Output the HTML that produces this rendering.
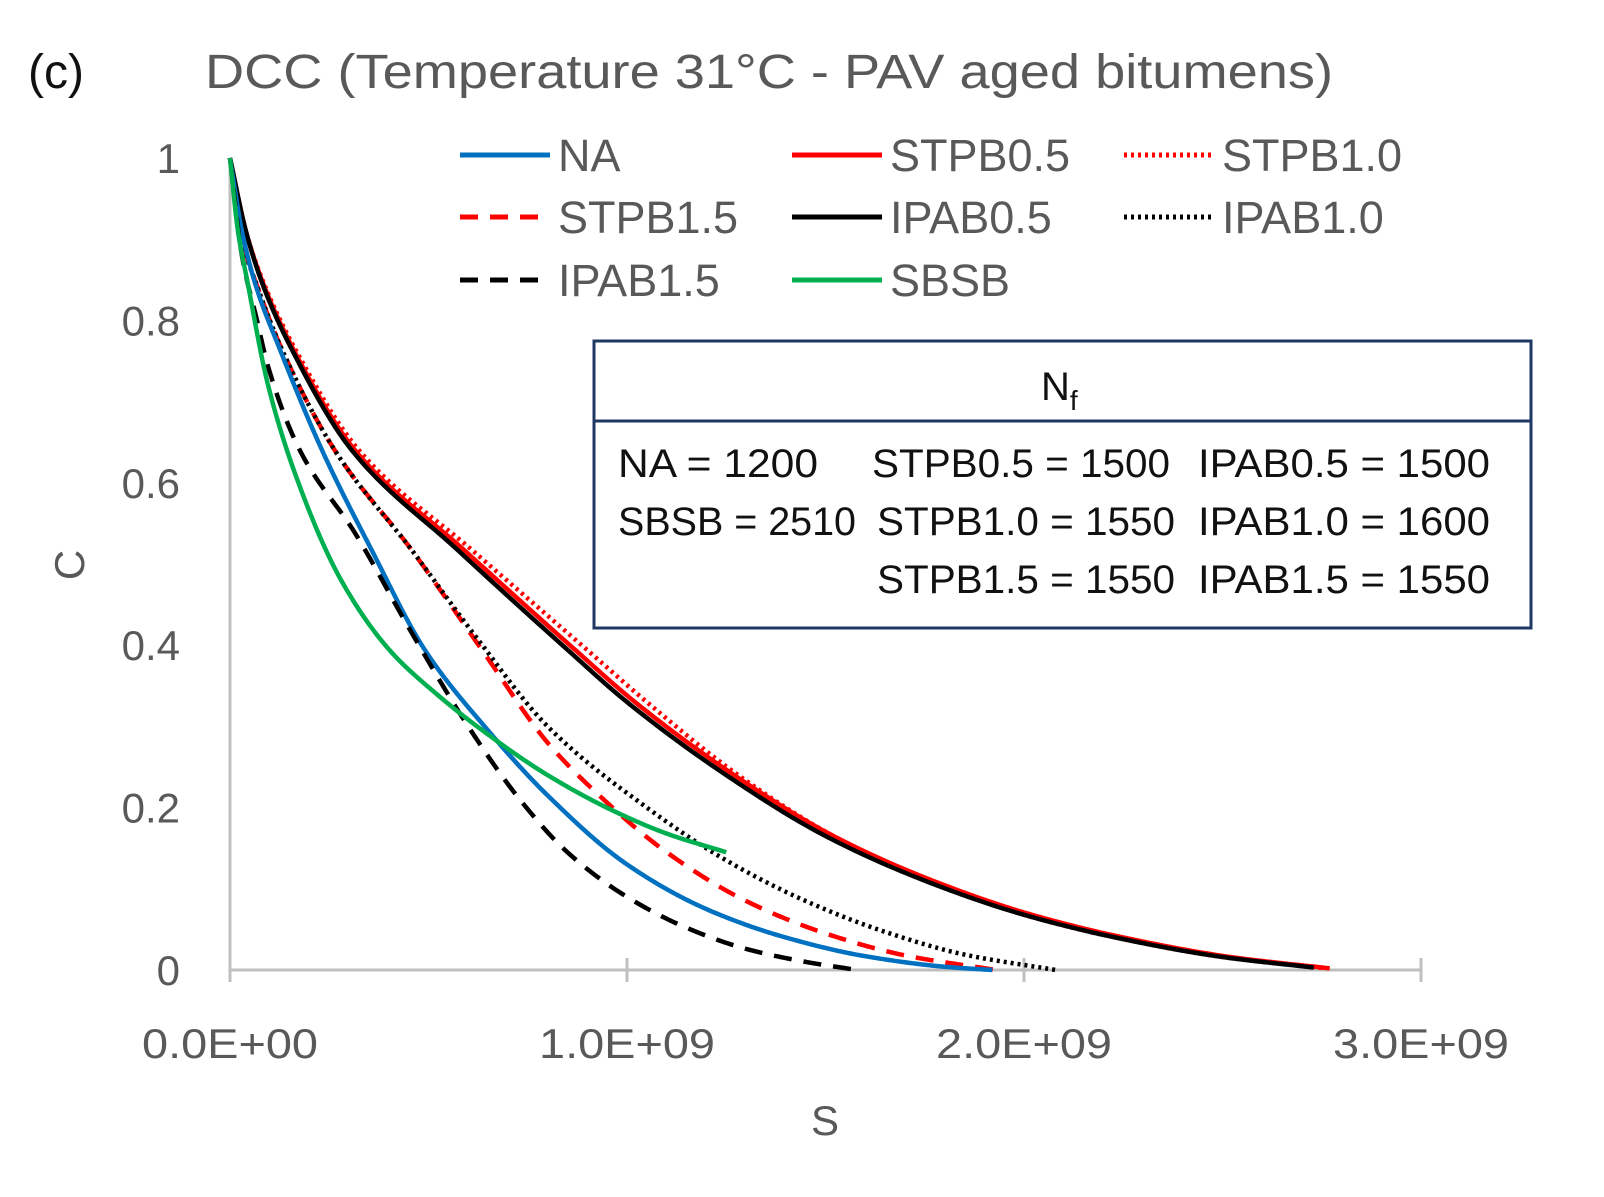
<!DOCTYPE html>
<html><head><meta charset="utf-8"><style>
html,body{margin:0;padding:0;background:#fff;}
svg{display:block;font-family:"Liberation Sans",sans-serif;}
</style></head><body>
<svg id="chart" width="1604" height="1197" viewBox="0 0 1604 1197">
<text x="28" y="88" font-size="48" fill="#111">(c)</text>
<text x="205" y="88" font-size="48" fill="#595959" textLength="1128" lengthAdjust="spacingAndGlyphs">DCC (Temperature 31°C - PAV aged bitumens)</text>
<g id="axes"></g>
<g id="series"></g>
<g id="legend"></g>
<g>
<rect x="594" y="341" width="937" height="287" fill="#fff" stroke="#1f3864" stroke-width="3"/>
<line x1="594" y1="421" x2="1531" y2="421" stroke="#1f3864" stroke-width="3"/>
<text x="1041" y="400" font-size="40" fill="#111">N<tspan font-size="28" dy="10">f</tspan></text>
<g font-size="40" fill="#111">
<text x="618" y="477" textLength="200" lengthAdjust="spacingAndGlyphs">NA = 1200</text>
<text x="872" y="477" textLength="298" lengthAdjust="spacingAndGlyphs">STPB0.5 = 1500</text>
<text x="1198" y="477" textLength="292" lengthAdjust="spacingAndGlyphs">IPAB0.5 = 1500</text>
<text x="618" y="535" textLength="238" lengthAdjust="spacingAndGlyphs">SBSB = 2510</text>
<text x="877" y="535" textLength="298" lengthAdjust="spacingAndGlyphs">STPB1.0 = 1550</text>
<text x="1198" y="535" textLength="292" lengthAdjust="spacingAndGlyphs">IPAB1.0 = 1600</text>
<text x="877" y="593" textLength="298" lengthAdjust="spacingAndGlyphs">STPB1.5 = 1550</text>
<text x="1198" y="593" textLength="292" lengthAdjust="spacingAndGlyphs">IPAB1.5 = 1550</text>
</g></g>
</svg>
<script>
const xTicks=[0,1,2,3];
const xTickLabels=["0.0E+00","1.0E+09","2.0E+09","3.0E+09"];
const yTicks=[0,0.2,0.4,0.6,0.8,1];
const yTickLabels=["0","0.2","0.4","0.6","0.8","1"];
const seriesNames=["NA","STPB0.5","STPB1.0","STPB1.5","IPAB0.5","IPAB1.0","IPAB1.5","SBSB"];
const sNA=[0,0.03,0.063,0.126,0.232,0.357,0.491,0.65,0.8,1.0,1.2,1.4,1.6,1.8,1.92];
const cNA=[1,0.91,0.846,0.764,0.64,0.517,0.394,0.295,0.215,0.13,0.075,0.04,0.017,0.004,0];
const sSTPB05=[0,0.04,0.083,0.16,0.315,0.59,0.87,1.02,1.27,1.52,1.77,2.02,2.27,2.52,2.77];
const cSTPB05=[1,0.91,0.846,0.764,0.64,0.517,0.394,0.33,0.24,0.165,0.11,0.068,0.038,0.016,0.002];
const sSTPB10=[0,0.04,0.085,0.165,0.325,0.61,0.9,1.05,1.28,1.52,1.76,2.0,2.25,2.5,2.76];
const cSTPB10=[1,0.91,0.846,0.764,0.64,0.517,0.394,0.33,0.24,0.165,0.11,0.068,0.038,0.016,0.002];
const sSTPB15=[0,0.03,0.07,0.131,0.264,0.458,0.635,0.8,0.93,1.1,1.3,1.5,1.7,1.93];
const cSTPB15=[1,0.9,0.84,0.764,0.64,0.517,0.394,0.28,0.215,0.145,0.085,0.045,0.018,0];
const sIPAB05=[0,0.04,0.081,0.156,0.307,0.574,0.851,1.0,1.25,1.5,1.75,2.0,2.25,2.5,2.73];
const cIPAB05=[1,0.91,0.846,0.764,0.64,0.517,0.394,0.33,0.24,0.165,0.11,0.068,0.038,0.016,0.003];
const sIPAB10=[0,0.03,0.07,0.131,0.264,0.458,0.62,0.8,1.05,1.25,1.45,1.65,1.85,2.08];
const cIPAB10=[1,0.9,0.84,0.764,0.64,0.517,0.41,0.3,0.2,0.135,0.085,0.047,0.019,0];
const sIPAB15=[0,0.03,0.068,0.096,0.176,0.315,0.458,0.6,0.73,0.85,1.0,1.15,1.3,1.45,1.58];
const cIPAB15=[1,0.88,0.8,0.743,0.64,0.538,0.415,0.3,0.21,0.145,0.09,0.052,0.026,0.01,0];
const sSBSB=[0,0.02,0.043,0.096,0.18,0.28,0.4,0.52,0.65,0.8,0.97,1.1,1.25];
const cSBSB=[1,0.91,0.85,0.72,0.59,0.48,0.395,0.34,0.29,0.24,0.195,0.168,0.145];

const NS="http://www.w3.org/2000/svg";
const X=v=>230+v*397;
const Y=v=>970-v*812;
function mk(tag,attrs,parent){const e=document.createElementNS(NS,tag);for(const k in attrs)e.setAttribute(k,attrs[k]);parent.appendChild(e);return e;}
const axes=document.getElementById('axes');
let yl=mk('line',{x1:X(0),y1:Y(0),x2:X(0),y2:Y(1),stroke:'#bfbfbf','stroke-width':3},axes);


let xl=mk('line',{x1:X(0),y1:Y(0),x2:X(3),y2:Y(0),stroke:'#bfbfbf','stroke-width':3},axes);


xTicks.forEach((t,i)=>{
 const tk=mk('line',{x1:X(t),y1:Y(0)-12,x2:X(t),y2:Y(0)+12,stroke:'#bfbfbf','stroke-width':3},axes);
 
 
 const tx=mk('text',{x:X(t),y:1058,'font-size':42,fill:'#595959','text-anchor':'middle',textLength:176,lengthAdjust:'spacingAndGlyphs'},axes);
 tx.textContent=xTickLabels[i];
 
 
});
yTicks.forEach((t,i)=>{
 const tx=mk('text',{x:180,y:Y(t)+15,'font-size':42,fill:'#595959','text-anchor':'end'},axes);
 tx.textContent=yTickLabels[i];
 
 
});
let xt=mk('text',{x:825,y:1135,'font-size':42,fill:'#595959','text-anchor':'middle'},axes);
xt.textContent='S';


let yt=mk('text',{x:0,y:0,'font-size':42,fill:'#595959','text-anchor':'middle',transform:'translate(84,565) rotate(-90)'},axes);
yt.textContent='C';



// monotone cubic (Fritsch-Carlson) interpolation
function pathD(xs,ys){
 const n=xs.length,d=[],m=new Array(n);
 for(let i=0;i<n-1;i++)d.push((ys[i+1]-ys[i])/(xs[i+1]-xs[i]));
 m[0]=d[0];m[n-1]=d[n-2];
 for(let i=1;i<n-1;i++){ if(d[i-1]*d[i]<=0)m[i]=0; else { const w1=2*(xs[i+1]-xs[i])+(xs[i]-xs[i-1]),w2=(xs[i+1]-xs[i])+2*(xs[i]-xs[i-1]); m[i]=(w1+w2)/(w1/d[i-1]+w2/d[i]); } }
 let s='M'+X(xs[0])+','+Y(ys[0]);
 for(let i=0;i<n-1;i++){
  const h=xs[i+1]-xs[i];
  for(let k=1;k<=30;k++){
   const t=k/30,t2=t*t,t3=t2*t;
   const v=(2*t3-3*t2+1)*ys[i]+(t3-2*t2+t)*h*m[i]+(-2*t3+3*t2)*ys[i+1]+(t3-t2)*h*m[i+1];
   s+=' L'+X(xs[i]+t*h).toFixed(2)+','+Y(v).toFixed(2);
  }
 }
 return s;
}
const styles={
 'NA':{c:'#0070c0',da:''},'STPB0.5':{c:'#ff0000',da:''},'STPB1.0':{c:'#ff0000',da:'3 4'},
 'STPB1.5':{c:'#ff0000',da:'18 12'},'IPAB0.5':{c:'#000',da:''},'IPAB1.0':{c:'#000',da:'3 4'},
 'IPAB1.5':{c:'#000',da:'18 12'},'SBSB':{c:'#00b050',da:''}};
const data={'NA':[sNA,cNA],'STPB0.5':[sSTPB05,cSTPB05],'STPB1.0':[sSTPB10,cSTPB10],'STPB1.5':[sSTPB15,cSTPB15],
 'IPAB0.5':[sIPAB05,cIPAB05],'IPAB1.0':[sIPAB10,cIPAB10],'IPAB1.5':[sIPAB15,cIPAB15],'SBSB':[sSBSB,cSBSB]};
const order=['STPB1.0','STPB0.5','IPAB0.5','STPB1.5','IPAB1.0','NA','IPAB1.5','SBSB'];
const sg=document.getElementById('series');
order.forEach(n=>{
 const st=styles[n];
 const pth=mk('path',{d:pathD(data[n][0],data[n][1]),fill:'none',stroke:st.c,'stroke-width':4.5,'stroke-dasharray':st.da,'stroke-linejoin':'round'},sg);
 
 
});
const lg=document.getElementById('legend');
const lpos=[[460,155],[792,155],[1124,155],[460,217],[792,217],[1124,217],[460,280],[792,280]];
const lorder=['NA','STPB0.5','STPB1.0','STPB1.5','IPAB0.5','IPAB1.0','IPAB1.5','SBSB'];
lorder.forEach((n,i)=>{
 const [x,y]=lpos[i];const st=styles[n];
 const g=mk('g',{},lg);
 
 
 mk('line',{x1:x,y1:y,x2:x+90,y2:y,stroke:st.c,'stroke-width':5,'stroke-dasharray':st.da},g);
 const t=mk('text',{x:x+98,y:y+16,'font-size':45,fill:'#595959'},g);
 t.textContent=n;
});
</script>
</body></html>
